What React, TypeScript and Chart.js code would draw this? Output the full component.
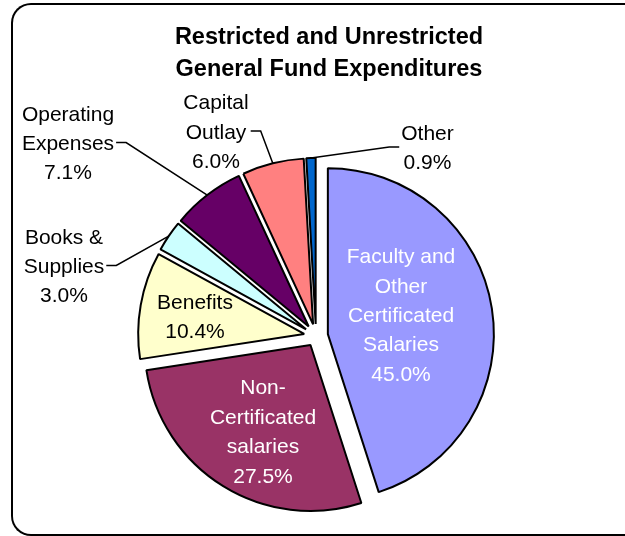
import React, { useEffect, useRef } from "react";
import { Chart, registerables } from "chart.js";

Chart.register(...registerables);

// ---------- data ----------
const TITLE_LINES = ["Restricted and Unrestricted", "General Fund Expenditures"];

const CATEGORIES = [
  "Faculty and Other Certificated Salaries",
  "Non-Certificated salaries",
  "Benefits",
  "Books & Supplies",
  "Operating Expenses",
  "Capital Outlay",
  "Other",
];

const LABEL_LINES = [
  ["Faculty and", "Other", "Certificated", "Salaries"],
  ["Non-", "Certificated", "salaries"],
  ["Benefits"],
  ["Books &", "Supplies"],
  ["Operating", "Expenses"],
  ["Capital", "Outlay"],
  ["Other"],
];

const VALUES = [45.0, 27.5, 10.4, 3.0, 7.1, 6.0, 0.9];

// ---------- styles ----------
const COLORS = ["#9999FF", "#993366", "#FFFFCC", "#CCFFFF", "#660066", "#FF8080", "#0066CC"];
const EXPLODE = [12, 10.5, 12, 12, 12, 12, 12];
const LABEL_COLORS = ["#FFFFFF", "#FFFFFF", "#000000", "#000000", "#000000", "#000000", "#000000"];
// label block centre relative to pie centre, and which side the leader attaches to
const LABEL_DX = [85, -53, -121, -252, -248, -100, 111.5];
const LABEL_DY = [-21.5, 95, -20, -70.5, -193.5, -205, -189];
const LEADER_SIDE = ["", "", "", "right", "right", "right", "left"];

const FONT_FAMILY = '"Liberation Sans", Arial, Helvetica, sans-serif';
const LABEL_FONT_SIZE = 21;
const LINE_HEIGHT = 29.4;
const TITLE_FONT_SIZE = 23.5;
const TITLE_CAP_CENTERS = [36, 67.5];
const TITLE_X_SHIFT = 16.5;

const explodePlugin = {
  id: "explodeAndLabels",
  beforeDatasetsDraw(chart: any) {
    const meta = chart.getDatasetMeta(0);
    meta.data.forEach((arc: any, i: number) => {
      const mid = (arc.startAngle + arc.endAngle) / 2;
      arc._origX = arc.x;
      arc._origY = arc.y;
      arc.x = arc.x + Math.cos(mid) * EXPLODE[i];
      arc.y = arc.y + Math.sin(mid) * EXPLODE[i];
    });
  },
  afterDatasetsDraw(chart: any) {
    const meta = chart.getDatasetMeta(0);
    meta.data.forEach((arc: any) => {
      if (arc._origX !== undefined) {
        arc.x = arc._origX;
        arc.y = arc._origY;
      }
    });
  },
  afterDraw(chart: any) {
    const ctx: CanvasRenderingContext2D = chart.ctx;
    const meta = chart.getDatasetMeta(0);
    const first: any = meta.data[0];
    const cx = first.x;
    const cy = first.y;
    ctx.save();

    // title
    ctx.font = `bold ${TITLE_FONT_SIZE}px ${FONT_FAMILY}`;
    ctx.fillStyle = "#000";
    ctx.textAlign = "center";
    ctx.textBaseline = "alphabetic";
    const tx = chart.width / 2 + TITLE_X_SHIFT;
    TITLE_LINES.forEach((t, k) => {
      ctx.fillText(t, tx, TITLE_CAP_CENTERS[k] + 0.358 * TITLE_FONT_SIZE);
    });

    // slice labels
    ctx.font = `${LABEL_FONT_SIZE}px ${FONT_FAMILY}`;
    meta.data.forEach((arc: any, i: number) => {
      const lines = [...LABEL_LINES[i], VALUES[i].toFixed(1) + "%"];
      const bx = cx + LABEL_DX[i];
      const by = cy + LABEL_DY[i];
      const n = lines.length;
      let w = 0;
      lines.forEach((l) => (w = Math.max(w, ctx.measureText(l).width)));
      ctx.fillStyle = LABEL_COLORS[i];
      ctx.textAlign = "center";
      lines.forEach((l, k) => {
        const capCenter = by + (k - (n - 1) / 2) * LINE_HEIGHT;
        ctx.fillText(l, bx, capCenter + 0.358 * LABEL_FONT_SIZE);
      });

      const side = LEADER_SIDE[i];
      if (side) {
        const mid = (arc.startAngle + arc.endAngle) / 2;
        const r = arc.outerRadius;
        const px = cx + Math.cos(mid) * (EXPLODE[i] + r);
        const py = cy + Math.sin(mid) * (EXPLODE[i] + r);
        const sgn = side === "right" ? 1 : -1;
        const edge = bx + sgn * (w / 2);
        const x0 = edge + sgn * 2;
        const elbow = edge + sgn * 12;
        ctx.strokeStyle = "#000";
        ctx.lineWidth = 1.5;
        ctx.beginPath();
        ctx.moveTo(px, py);
        ctx.lineTo(elbow, by);
        ctx.lineTo(x0, by);
        ctx.stroke();
      }
    });
    ctx.restore();
  },
};

export default function App() {
  const canvasRef = useRef<HTMLCanvasElement | null>(null);

  useEffect(() => {
    const canvas = canvasRef.current;
    if (!canvas) return;
    const chart = new Chart(canvas, {
      type: "pie",
      data: {
        labels: CATEGORIES,
        datasets: [
          {
            data: VALUES,
            backgroundColor: COLORS,
            borderColor: "#000000",
            borderWidth: 2,
            hoverOffset: 0,
            offset: 0,
          },
        ],
      },
      options: {
        responsive: false,
        devicePixelRatio: 1,
        animation: false,
        events: [],
        layout: { padding: { left: 149, right: 142, top: 169, bottom: 33 } },
        plugins: {
          legend: { display: false },
          tooltip: { enabled: false },
          title: { display: false },
        },
      },
      plugins: [explodePlugin],
    } as any);
    return () => chart.destroy();
  }, []);

  return (
    <div>
      <div
        style={{
          position: "fixed",
          left: 11,
          top: 3,
          width: 621,
          height: 533,
          boxSizing: "border-box",
          borderTop: "2px solid #000",
          borderLeft: "2px solid #000",
          borderBottom: "2px solid #000",
          borderRight: "none",
          borderTopLeftRadius: 20,
          borderBottomLeftRadius: 20,
          background: "#fff",
        }}
      />
      <canvas
        ref={canvasRef}
        width={625}
        height={536}
        style={{ position: "fixed", left: 0, top: 0, width: 625, height: 536 }}
      />
    </div>
  );
}
